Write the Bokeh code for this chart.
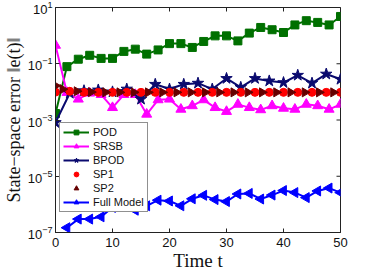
from bokeh.plotting import figure
from bokeh.models import Range1d, FixedTicker, Legend, LegendItem, ColumnDataSource
from bokeh.embed import file_html
from bokeh.resources import INLINE

# ---- data ----
t_pod = [0, 2, 4, 6, 8, 10, 12, 14, 16, 18, 20, 22, 24, 26, 28, 30, 32, 34, 36, 38, 40, 42, 44, 46, 48, 50]
pod = [1.7e-3, 0.079, 0.145, 0.2, 0.155, 0.155, 0.275, 0.33, 0.22, 0.31, 0.52, 0.52, 0.38,
       0.62, 0.98, 0.98, 0.65, 1.23, 1.95, 1.62, 1.29, 2.4, 3.4, 2.95, 2.4, 4.8]

t_srsb = [0, 2, 4, 6, 8, 10, 12, 14, 16, 18, 20, 22, 24, 26, 28, 30, 32, 34, 36, 38, 40, 42, 44, 46, 48, 50]
srsb = [0.45, 9.5e-3, 5.5e-3, 9.0e-3, 8.0e-3, 2.75e-3, 8.0e-3, 8.0e-3, 1.6e-3, 5.2e-3, 5.5e-3, 2.4e-3,
        3.2e-3, 5.2e-3, 2.75e-3, 2.0e-3, 3.6e-3, 2.75e-3, 2.3e-3, 3.2e-3, 2.6e-3, 2.4e-3, 3.6e-3,
        3.2e-3, 2.4e-3, 3.6e-3]

t_bpod = [0, 2.5, 5, 7.5, 10, 12.5, 15, 17.5, 20, 22.5, 25, 27.5, 30, 32.5, 35, 37.5, 40, 42.5, 45, 47.5, 50]
bpod = [8.1e-4, 8.9e-3, 0.011, 0.0117, 0.01, 0.0126, 5.5e-3, 0.0186, 0.0126, 0.0186, 0.0204,
        0.0126, 0.030, 0.0145, 0.030, 0.0245, 0.0214, 0.039, 0.0204, 0.043, 0.028]

t_sp1 = [0, 2.5, 5, 7.5, 10, 12.5, 15, 17.5, 20, 22.5, 25, 27.5, 30, 32.5, 35, 37.5, 40, 42.5, 45, 47.5, 50]
sp1 = [0.0098, 0.0105, 0.0096, 0.0096, 0.0096, 0.0096, 0.0096, 0.0096, 0.0096, 0.0096, 0.0096,
       0.0096, 0.0096, 0.0096, 0.0096, 0.0096, 0.0096, 0.0096, 0.0096, 0.0096, 0.0096]

t_sp2 = [0, 1.25, 3.75, 6.25, 8.75, 11.25, 13.75, 16.25, 18.75, 21.25, 23.75, 26.25, 28.75,
         31.25, 33.75, 36.25, 38.75, 41.25, 43.75, 46.25, 48.75]
sp2 = [0.0166, 0.0125, 0.0105, 0.0098, 0.0096, 0.0096, 0.0096, 0.0096, 0.0096, 0.0096, 0.0096,
       0.0096, 0.0096, 0.0096, 0.0096, 0.0096, 0.0096, 0.0096, 0.0096, 0.0096, 0.0096]

t_full = [2, 4, 6, 8, 10, 12, 14, 16, 18, 20, 22, 24, 26, 28, 30, 32, 34, 36, 38, 40, 42, 44, 46, 48, 50]
full = [1.48e-7, 3.0e-7, 3.0e-7, 3.6e-7, 7.8e-7, 8.7e-7, 6.2e-7, 8.9e-7, 1.41e-6, 1.32e-6, 8.9e-7,
        1.58e-6, 2.1e-6, 1.48e-6, 1.26e-6, 2.34e-6, 2.45e-6, 1.55e-6, 2.14e-6, 3.1e-6, 2.63e-6,
        1.74e-6, 3.0e-6, 3.8e-6, 2.63e-6]

x_ticks = [0, 10, 20, 30, 40, 50]
y_ticks = [1e-7, 1e-5, 1e-3, 1e-1, 10]
x_min, x_max = 0, 50
y_min, y_max = 1e-7, 10

# ---- figure ----
p = figure(output_backend="svg", toolbar_location=None, y_axis_type="log",
           frame_width=285, frame_height=225,
           min_border_left=46, min_border_right=35, min_border_top=7, min_border_bottom=36,
           x_range=Range1d(x_min, x_max), y_range=Range1d(y_min, y_max))
p.background_fill_color = "white"
p.border_fill_color = "white"
p.outline_line_color = "#222222"
p.grid.visible = False

p.xaxis.ticker = FixedTicker(ticks=x_ticks)
p.yaxis.ticker = FixedTicker(ticks=y_ticks)
for ax in (p.xaxis[0], p.yaxis[0]):
    ax.major_tick_in = 4
    ax.major_tick_out = 0
    ax.minor_tick_line_color = None
    ax.axis_line_color = "#222222"
    ax.major_tick_line_color = "#222222"
    ax.major_label_text_font = "Liberation Sans"
    ax.major_label_text_font_size = "13px"
    ax.major_label_text_color = "#111111"
    ax.axis_label_text_font = "Liberation Serif"
    ax.axis_label_text_font_style = "normal"
    ax.axis_label_text_color = "#111111"

p.xaxis.axis_label = "Time t"
p.yaxis.axis_label = "State\u2212space error \u2016e(t)\u2016"
p.xaxis.axis_label_text_font_size = "19px"
p.yaxis.axis_label_text_font_size = "18px"
p.xaxis.major_label_standoff = 5
p.xaxis.axis_label_standoff = 0
p.yaxis.major_label_standoff = 3
p.yaxis.axis_label_standoff = 1

# mirrored inward tick marks on top and right edges (clipped dashes on the frame edge)
p.scatter(x_ticks, [y_max] * len(x_ticks), marker="dash", angle=1.5708, size=8,
          line_color="#222222", line_width=1)
p.scatter([x_max] * len(y_ticks), y_ticks, marker="dash", size=8,
          line_color="#222222", line_width=1)

# ---- series ----
c_pod, c_srsb, c_bpod = "#007000", "#ff00ff", "#0a0a6e"
c_sp1, c_sp2, c_full = "#ff0000", "#660000", "#0000ff"

src_sp2 = ColumnDataSource(dict(t=t_sp2, v=sp2, ang=[-1.5708] * len(t_sp2)))
src_full = ColumnDataSource(dict(t=t_full, v=full, ang=[1.5708] * len(t_full)))

l1 = p.line(t_pod, pod, line_color=c_pod, line_width=2)
s1 = p.scatter(t_pod, pod, marker="square", size=8, fill_color=c_pod, line_color=c_pod)

l2 = p.line(t_srsb, srsb, line_color=c_srsb, line_width=2)
s2 = p.scatter(t_srsb, srsb, marker="triangle", size=10, fill_color=c_srsb, line_color=c_srsb)

l3 = p.line(t_bpod, bpod, line_color=c_bpod, line_width=2)
s3 = p.scatter(t_bpod, bpod, marker="star", size=12, fill_color=c_bpod, line_color=c_bpod)

s4 = p.scatter(t_sp1, sp1, marker="circle", size=8, fill_color=c_sp1, line_color=c_sp1)

s5 = p.scatter("t", "v", source=src_sp2, marker="triangle", angle="ang", size=9,
               fill_color=c_sp2, line_color=c_sp2)

l6 = p.line("t", "v", source=src_full, line_color=c_full, line_width=2)
s6 = p.scatter("t", "v", source=src_full, marker="triangle", angle="ang", size=10,
               fill_color=c_full, line_color=c_full)

legend = Legend(items=[
    LegendItem(label="POD", renderers=[l1, s1]),
    LegendItem(label="SRSB", renderers=[l2, s2]),
    LegendItem(label="BPOD", renderers=[l3, s3]),
    LegendItem(label="SP1", renderers=[s4]),
    LegendItem(label="SP2", renderers=[s5], index=1),
    LegendItem(label="Full Model", renderers=[l6, s6], index=1),
], location=(4, 20))
legend.label_text_font = "Liberation Sans"
legend.label_text_font_size = "11px"
legend.label_text_color = "#111111"
legend.padding = 3
legend.spacing = 2
legend.margin = 0
legend.glyph_width = 26
legend.glyph_height = 12
legend.label_height = 12
legend.label_standoff = 4
legend.border_line_color = "#222222"
legend.border_line_width = 1
legend.background_fill_alpha = 1.0
p.add_layout(legend, "center")

html = file_html(p, INLINE)
html = html.replace("<head>", "<head><style>html,body{overflow:hidden;}</style>", 1)
open("out.html", "w").write(html)
